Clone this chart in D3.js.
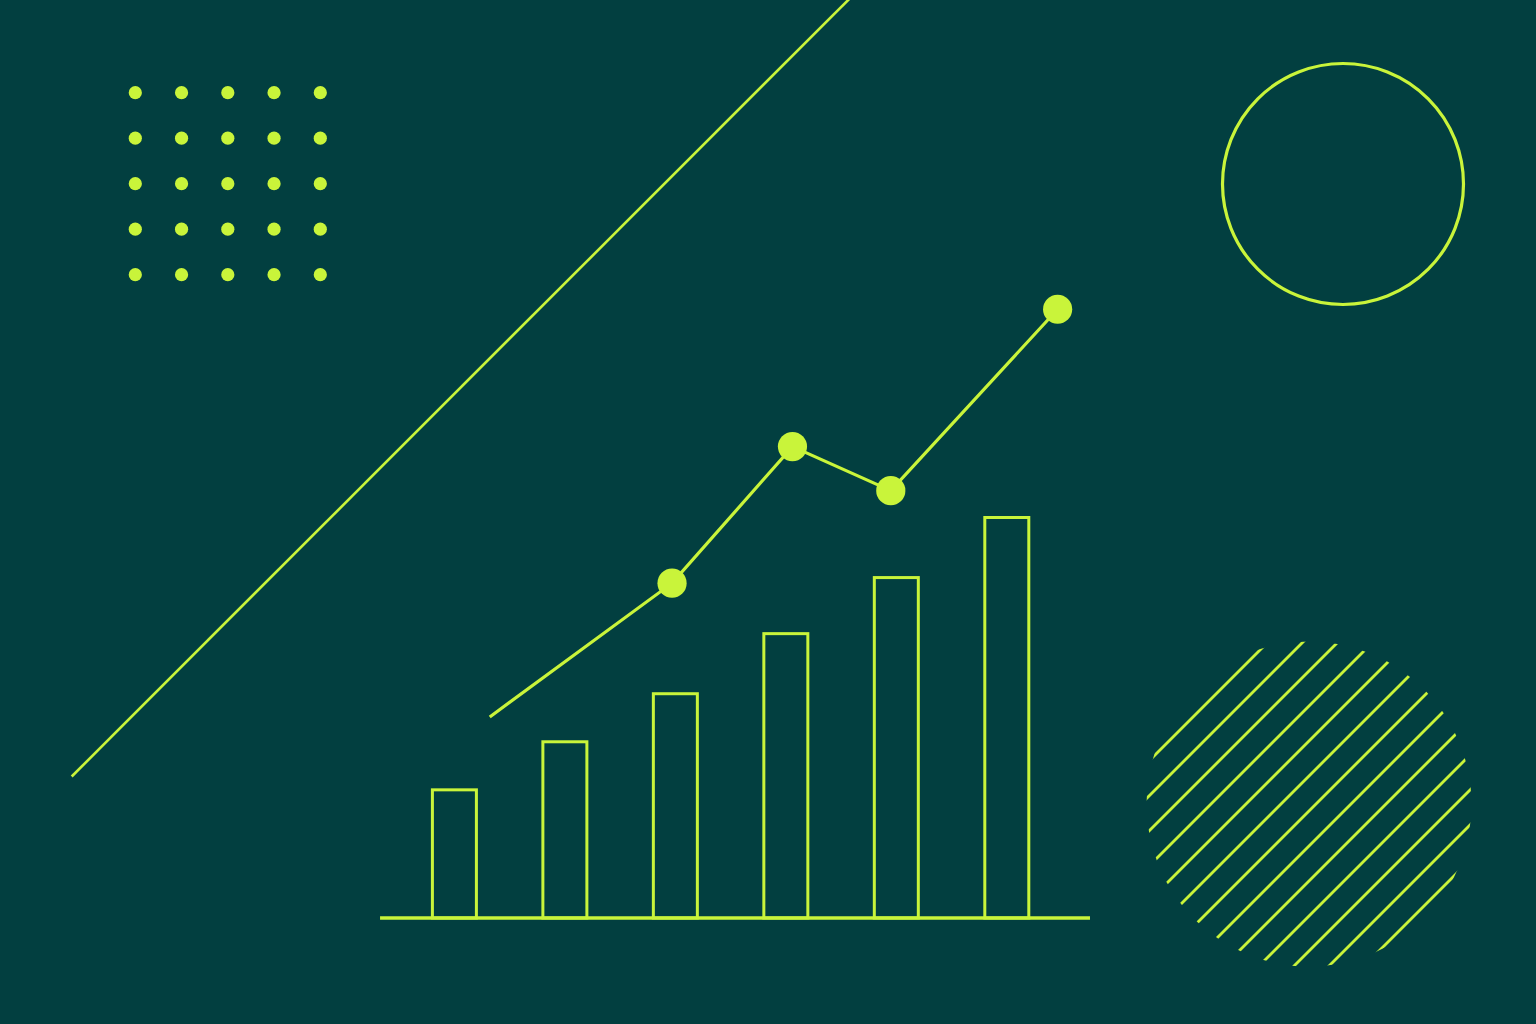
<!DOCTYPE html>
<html>
<head>
<meta charset="utf-8">
<script src="https://cdn.jsdelivr.net/npm/d3@7"></script>
<style>
  html, body { margin: 0; padding: 0; background: #023f40; }
  svg { display: block; }
</style>
</head>
<body>
<svg id="chart" width="1536" height="1024"></svg>
<script>
// ---- data ----
const categories = ["A", "B", "C", "D", "E", "F"];
const barValues = [32, 44, 56, 71, 85, 100];
const lineX = [0.32, 1.97, 3.06, 3.95, 5.46];
const lineValues = [50.2, 83.6, 117.7, 106.7, 152.0];
const lineMarkers = [false, true, true, true, true];

// ---- styles ----
const BG = "#023f40";
const LIME = "#c9f43a";

const svg = d3.select("#chart");
svg.append("rect").attr("width", 1536).attr("height", 1024).attr("fill", BG);

// ---- decorations ----
// dot grid
const dotCols = d3.range(5), dotRows = d3.range(5);
const dg = svg.append("g");
dotRows.forEach(r => dotCols.forEach(c => {
  dg.append("circle")
    .attr("cx", 135.3 + c * 46.25)
    .attr("cy", 92.7 + r * 45.5)
    .attr("r", 6.6)
    .attr("fill", LIME);
}));

// long diagonal line
svg.append("line")
  .attr("x1", 71.7).attr("y1", 776.5)
  .attr("x2", 850).attr("y2", -1.8)
  .attr("stroke", LIME).attr("stroke-width", 2.6);

// ring
svg.append("circle")
  .attr("cx", 1343).attr("cy", 184).attr("r", 120.5)
  .attr("fill", "none").attr("stroke", LIME).attr("stroke-width", 3.2);

// hatched circle
const hc = { x: 1309, y: 804, r: 162.5 };
svg.append("defs").append("clipPath").attr("id", "hatchClip")
  .append("circle").attr("cx", hc.x).attr("cy", hc.y).attr("r", hc.r);
const hg = svg.append("g").attr("clip-path", "url(#hatchClip)");
d3.range(13).forEach(k => {
  const s = 1910 + 35 * k;
  const xa = hc.x - 220, xb = hc.x + 220;
  hg.append("line")
    .attr("x1", xa).attr("y1", s - xa)
    .attr("x2", xb).attr("y2", s - xb)
    .attr("stroke", LIME).attr("stroke-width", 2.8);
});

// ---- chart ----
const x = d3.scaleLinear().domain([0, categories.length - 1]).range([454.4, 1006.8]);
const y = d3.scaleLinear().domain([0, 100]).range([918, 517.5]);
const barW = 44;

const bars = svg.append("g");
bars.selectAll("rect").data(barValues).join("rect")
  .attr("x", (d, i) => x(i) - barW / 2)
  .attr("y", d => y(d))
  .attr("width", barW)
  .attr("height", d => y(0) - y(d))
  .attr("fill", "none")
  .attr("stroke", LIME)
  .attr("stroke-width", 3);

// baseline
svg.append("line")
  .attr("x1", x(-0.673)).attr("x2", x(5.753))
  .attr("y1", y(0)).attr("y2", y(0))
  .attr("stroke", LIME).attr("stroke-width", 3.4);

// line series
const pts = lineX.map((lx, i) => ({ x: lx, v: lineValues[i], m: lineMarkers[i] }));
svg.append("path")
  .datum(pts)
  .attr("d", d3.line().x(d => x(d.x)).y(d => y(d.v)))
  .attr("fill", "none")
  .attr("stroke", LIME)
  .attr("stroke-width", 3.2);

svg.append("g").selectAll("circle").data(pts.filter(d => d.m)).join("circle")
  .attr("cx", d => x(d.x))
  .attr("cy", d => y(d.v))
  .attr("r", 14.6)
  .attr("fill", LIME);
</script>
</body>
</html>
